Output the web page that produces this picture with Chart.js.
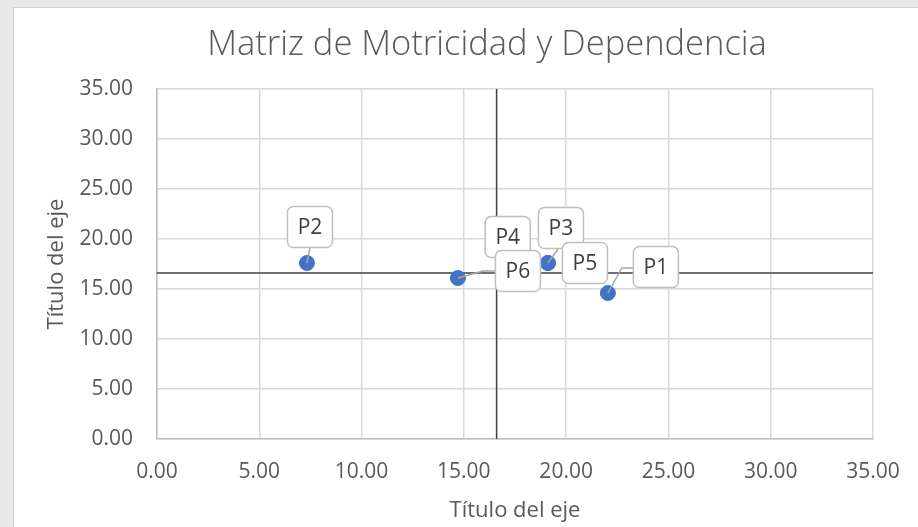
<!DOCTYPE html>
<html>
<head>
<meta charset="utf-8">
<script src="https://cdn.jsdelivr.net/npm/chart.js@4.4.1/dist/chart.umd.min.js"></script>
<style>
  html, body { margin: 0; padding: 0; background: #e8e8e8; }
  #wrap { width: 918px; height: 527px; position: relative; }
</style>
</head>
<body>
<div id="wrap"><canvas id="matrizChart"></canvas></div>
<script>
// datos de la matriz (x = dependencia, y = motricidad)
const puntos = ['P1', 'P2', 'P3', 'P4', 'P5', 'P6'];
const dependencia = [22.04, 7.33, 19.11, 17.29, 19.11, 14.71];
const motricidad = [14.6, 17.6, 17.6, 16.1, 17.6, 16.1];
const promedio = 16.6;
const ejeMin = 0;
const ejeMax = 35;
const ejePaso = 5;
const titulo = 'Matriz de Motricidad y Dependencia';

// posicion de las etiquetas respecto al punto (px) y lineas guia
const etiquetaOffset = [[48, -26], [3, -36], [13, -35], [-3, -41], [37, 0], [60, -7]];
const guias = [
  [[14, -25], [25, -25]],
  [[3, -15]],
  [[10, -14]],
  [[-3, -21]],
  [],
  [[25, -7], [37, -7]]
];

const fondo = {
  id: 'fondo',
  beforeDraw(chart) {
    const ctx = chart.ctx;
    ctx.save();
    ctx.fillStyle = '#e8e8e8';
    ctx.fillRect(0, 0, chart.width, chart.height);
    ctx.fillStyle = '#ffffff';
    ctx.fillRect(13, 7, chart.width - 13, chart.height - 7);
    ctx.strokeStyle = '#d0d0d0';
    ctx.lineWidth = 1;
    ctx.strokeRect(13.5, 7.5, chart.width, chart.height);
    // titulo centrado en el area blanca del grafico
    ctx.font = "300 34.5px 'Open Sans'";
    ctx.fillStyle = '#595959';
    ctx.textAlign = 'center';
    ctx.textBaseline = 'middle';
    ctx.fillText(titulo, 487, 45);
    ctx.restore();
  }
};

const etiquetas = {
  id: 'etiquetas',
  afterDatasetsDraw(chart) {
    const ctx = chart.ctx;
    const meta = chart.getDatasetMeta(0);
    ctx.save();
    // lineas guia
    ctx.strokeStyle = '#a6a6a6';
    ctx.lineWidth = 1.5;
    meta.data.forEach((pt, i) => {
      if (!guias[i].length) return;
      ctx.beginPath();
      ctx.moveTo(pt.x, pt.y);
      guias[i].forEach(g => ctx.lineTo(pt.x + g[0], pt.y + g[1]));
      ctx.stroke();
    });
    // cuadros
    const w = 45, h = 41;
    ctx.font = "21px 'Open Sans'";
    ctx.textAlign = 'center';
    ctx.textBaseline = 'middle';
    meta.data.forEach((pt, i) => {
      const cx = pt.x + etiquetaOffset[i][0];
      const cy = pt.y + etiquetaOffset[i][1];
      ctx.beginPath();
      ctx.roundRect(cx - w / 2, cy - h / 2, w, h, 6);
      ctx.fillStyle = '#ffffff';
      ctx.fill();
      ctx.strokeStyle = '#bfbfbf';
      ctx.lineWidth = 1.5;
      ctx.stroke();
      ctx.fillStyle = '#404040';
      ctx.fillText(puntos[i], cx, cy + 1);
    });
    ctx.restore();
  }
};

Chart.defaults.font.family = "'Open Sans', sans-serif";
Chart.defaults.color = '#595959';

const ctx = document.getElementById('matrizChart').getContext('2d');
const matrizChart = new Chart(ctx, {
  type: 'scatter',
  data: {
    datasets: [
      {
        label: 'Puntos',
        data: puntos.map((p, i) => ({ x: dependencia[i], y: motricidad[i] })),
        backgroundColor: '#4472c4',
        borderColor: '#4472c4',
        pointRadius: 7.5,
        pointHoverRadius: 7.5
      },
      {
        label: 'Promedio X',
        data: [{ x: promedio, y: ejeMin }, { x: promedio, y: ejeMax }],
        showLine: true,
        borderColor: '#404040',
        borderWidth: 1.5,
        pointRadius: 0
      },
      {
        label: 'Promedio Y',
        data: [{ x: ejeMin, y: promedio }, { x: ejeMax, y: promedio }],
        showLine: true,
        borderColor: '#404040',
        borderWidth: 1.5,
        pointRadius: 0
      }
    ]
  },
  options: {
    responsive: true,
    maintainAspectRatio: false,
    animation: false,
    layout: { padding: { left: 13, top: 89, right: 45, bottom: 0 } },
    plugins: {
      legend: { display: false },
      tooltip: { enabled: false },
      title: { display: false }
    },
    scales: {
      x: {
        min: ejeMin,
        max: ejeMax,
        afterFit: s => { s.height = 88; s.paddingLeft = 0; s.paddingRight = 0; },
        ticks: {
          stepSize: ejePaso,
          padding: 20,
          font: { size: 21 },
          color: '#595959',
          callback: v => Number(v).toFixed(2)
        },
        grid: { color: '#d9d9d9', lineWidth: 1.5, drawTicks: false },
        border: { color: '#bfbfbf', width: 1.5 },
        title: {
          display: true,
          text: 'Título del eje',
          color: '#595959',
          font: { size: 22 },
          padding: { top: 0, bottom: 3 }
        }
      },
      y: {
        min: ejeMin,
        max: ejeMax,
        afterFit: s => { s.width = 144; s.paddingTop = 0; s.paddingBottom = 0; },
        ticks: {
          stepSize: ejePaso,
          padding: 24,
          font: { size: 21 },
          color: '#595959',
          callback: v => Number(v).toFixed(2)
        },
        grid: { color: '#d9d9d9', lineWidth: 1.5, drawTicks: false },
        border: { color: '#bfbfbf', width: 1.5 },
        title: {
          display: true,
          text: 'Título del eje',
          color: '#595959',
          font: { size: 22 },
          padding: { top: 30.8, bottom: 0 }
        }
      }
    }
  },
  plugins: [fondo, etiquetas]
});
</script>
</body>
</html>
